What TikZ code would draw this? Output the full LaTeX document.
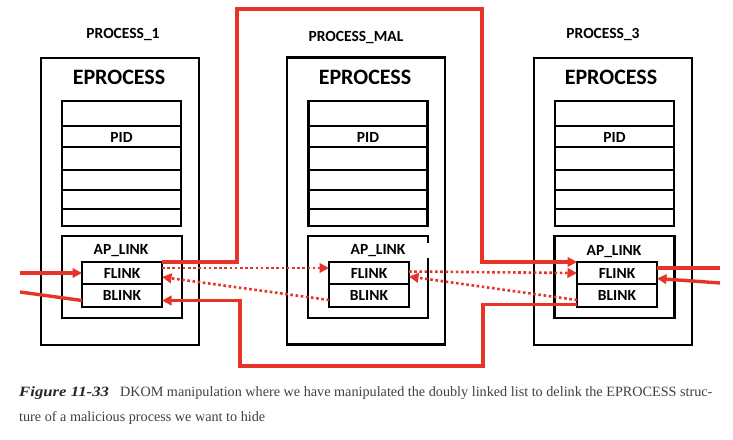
\documentclass[tikz,border=0pt]{standalone}
\usepackage{fontspec}
\setsansfont{Carlito}
\newfontfamily\capfont{Liberation Serif}
\newfontfamily\figfont{Liberation Serif}[FakeStretch=1.18]
\usetikzlibrary{positioning, arrows.meta}
\definecolor{linkred}{RGB}{232,52,40}
\definecolor{capgray}{RGB}{64,64,64}

\begin{document}
\begin{tikzpicture}[x=1pt,y=-1pt,>={Triangle[length=9.5pt,width=9.5pt]},
    box/.style={draw,line width=2.6pt,inner sep=0pt,outer sep=0pt},
    small label/.style={font=\sffamily\bfseries\fontsize{15.5}{16}\selectfont,inner sep=0pt},
    head label/.style={font=\sffamily\bfseries\fontsize{22}{23}\selectfont,inner sep=0pt},
    proc box/.style={box,minimum width=158pt,minimum height=287pt},
    table box/.style={box,line width=2.4pt,minimum width=119pt,minimum height=125pt},
    link box/.style={box,line width=2.4pt,minimum width=120pt,minimum height=82pt},
    field box/.style={box,line width=2.4pt,minimum width=80pt,font=\sffamily\bfseries\fontsize{15.5}{16}\selectfont},
    row/.style={line width=2.2pt},
    red line/.style={draw=linkred,line width=3.4pt},
    red dots/.style={draw=linkred,line width=2.6pt,dash pattern=on 2.6pt off 2.6pt},
    caption/.style={anchor=base west,inner sep=0pt,text=capgray,font=\capfont\fontsize{14.2}{15}\selectfont}]
    \useasboundingbox (0,0) rectangle (733,439);

    % the three processes
    \node[proc box] (p1) at (120,201.5) {};
    \node[proc box] (pm) at (366,201) {};
    \node[proc box] (p3) at (613,201.5) {};
    \node[small label] (n1) at (123,34) {PROCESS\_1};
    \node[small label] (nm) at (356,37) {PROCESS\_MAL};
    \node[small label] (n3) at (603,34) {PROCESS\_3};
    \node[head label] (ep1) at (119,77) {EPROCESS};
    \node[head label] (epm) at (365,77) {EPROCESS};
    \node[head label] (ep3) at (611,77) {EPROCESS};

    % field tables
    \node[table box] (t1) at (121.5,163.5) {};
    \node[table box] (tm) at (368,163.5) {};
    \node[table box] (t3) at (614.5,163.5) {};
    \foreach \t in {t1,tm,t3}
        \foreach \y in {126,147,170,190,209}
            \draw[row] (\t.west |- 0,\y) -- (\t.east |- 0,\y);
    \node[small label] (pid1) at (t1.center |- 0,137) {PID};
    \node[small label] (pidm) at (tm.center |- 0,137) {PID};
    \node[small label] (pid3) at (t3.center |- 0,137) {PID};

    % list entries
    \node[link box] (ap1) at (122,277) {};
    \node[box,draw=none,minimum width=120pt,minimum height=82pt] (apm) at (368,277) {};
    \draw[line width=2.4pt] ([yshift=-7pt]apm.north east) -- (apm.north east) -- (apm.north west)
        -- (apm.south west) -- (apm.south east) -- ([yshift=-22pt]apm.north east);
    \node[link box] (ap3) at (614.5,277) {};
    \node[small label] (al1) at (121,251) {AP\_LINK};
    \node[small label] (alm) at (378,251) {AP\_LINK};
    \node[small label] (al3) at (614,252) {AP\_LINK};

    \node[field box,minimum height=22pt] (f1) at (122,273) {FLINK};
    \node[field box,minimum height=23pt,below=0pt of f1] (b1) {BLINK};
    \node[field box,minimum height=22pt] (fm) at (369,273) {FLINK};
    \node[field box,minimum height=23pt,below=0pt of fm] (bm) {BLINK};
    \node[field box,minimum height=22pt] (f3) at (617,273) {FLINK};
    \node[field box,minimum height=23pt,below=0pt of f3] (b3) {BLINK};

    % free ends at the picture edges
    \coordinate (in1) at (20,273);
    \coordinate (out1) at (20,292);
    \coordinate (out3) at (720,268);
    \coordinate (in3) at (720,283);
    \coordinate (tl) at (237,9);
    \coordinate (tr) at (482,9);
    \coordinate (bl) at (240,366);
    \coordinate (br) at (483,366);

    % new links around the hidden process
    \draw[red line,->] (in1) -- (f1.west);
    \draw[red line] ([yshift=-5pt]b1.west) -- (out1);
    \draw[red line,->] (f1.north east) -| (tl) -- (tr) |- (f3.north west);
    \draw[red line,->] ([yshift=-9pt]b3.west) -| (br) -- (bl) |- ([yshift=-5pt]b1.east);
    \draw[red line] ([yshift=5pt]f3.east) -- (out3);
    \draw[red line,->] (in3) -- ([yshift=-5.5pt]f3.east);

    % old links
    \draw[red dots,->] ([yshift=5pt]f1.east) -- ([yshift=5pt]fm.west);
    \draw[red dots,->] ([yshift=-4.5pt]bm.west) -- ([yshift=-4pt]f1.east);
    \draw[red dots,->] ([yshift=1.5pt]fm.east) -- (f3.west);
    \draw[red dots,->] ([yshift=-4.5pt]b3.west) -- ([yshift=-3.5pt]fm.east);

    % caption
    \node[caption] (cap1) at (19,396)
        {{\color{black!85}\figfont\bfseries\itshape Figure 11-33}\hspace{11pt}DKOM manipulation where we have manipulated the doubly linked list to delink the EPROCESS struc-};
    \node[caption] (cap2) at (19,421) {ture of a malicious process we want to hide};
\end{tikzpicture}
\end{document}
